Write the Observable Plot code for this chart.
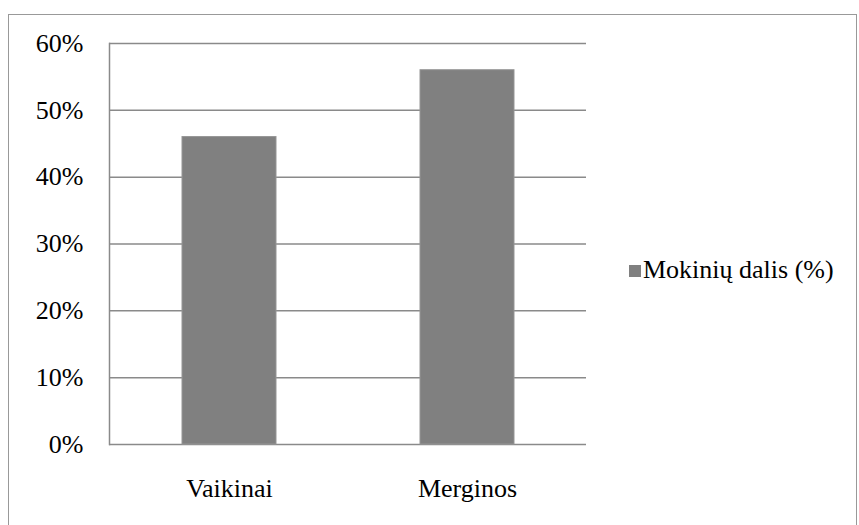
<!DOCTYPE html>
<html>
<head>
<meta charset="utf-8">
<script src="https://cdn.jsdelivr.net/npm/d3@7"></script>
<script src="https://cdn.jsdelivr.net/npm/@observablehq/plot@0.6"></script>
<style>
  html, body { margin: 0; padding: 0; background: #fff; font-size: 26px; }
</style>
</head>
<body>
<div id="wrap" style="position:relative;width:859px;height:525px;overflow:hidden">
  <div id="chart" style="position:absolute;left:0;top:0"></div>
  <div style="position:absolute;left:8px;top:14px;width:849px;height:530px;border:1.5px solid #999;box-sizing:border-box"></div>
  <div style="position:absolute;left:629px;top:265px;width:12px;height:12px;background:#808080"></div>
  <div id="legText" style="position:absolute;left:643px;top:257px;font-family:'Liberation Serif';font-size:26px;line-height:26px;white-space:nowrap">Mokinių dalis (%)</div>
</div>
<script>
const categories = ["Vaikinai", "Merginos"];
const values = [0.46, 0.56];
const yTicks = [0, 0.1, 0.2, 0.3, 0.4, 0.5, 0.6];
const seriesName = "Mokinių dalis (%)";

const data = categories.map((c, i) => ({category: c, value: values[i]}));

const chart = Plot.plot({
  width: 859,
  height: 525,
  marginLeft: 109,
  marginRight: 273,
  marginTop: 43,
  marginBottom: 81,
  style: {fontFamily: "'Liberation Serif'", fontSize: "26px", color: "#000", background: "transparent"},
  x: {domain: categories, paddingInner: 0.606, paddingOuter: 0.303, label: null},
  y: {domain: [0, 0.6], label: null},
  marks: [
    Plot.ruleY(yTicks, {stroke: "#8a8a8a", strokeWidth: 1.5}),
    Plot.frame({anchor: "left", stroke: "#8a8a8a", strokeWidth: 1.5}),
    Plot.barY(data, {x: "category", y: "value", fill: "#808080", stroke: "#959595", strokeWidth: 1}),
    Plot.axisY({ticks: yTicks, tickFormat: d => Math.round(d * 100) + "%", tickSize: 0, tickPadding: 26, label: null}),
    Plot.axisX({tickSize: 0, tickPadding: 34, label: null})
  ]
});
document.getElementById("chart").appendChild(chart);
document.getElementById("legText").textContent = seriesName;
</script>
</body>
</html>
